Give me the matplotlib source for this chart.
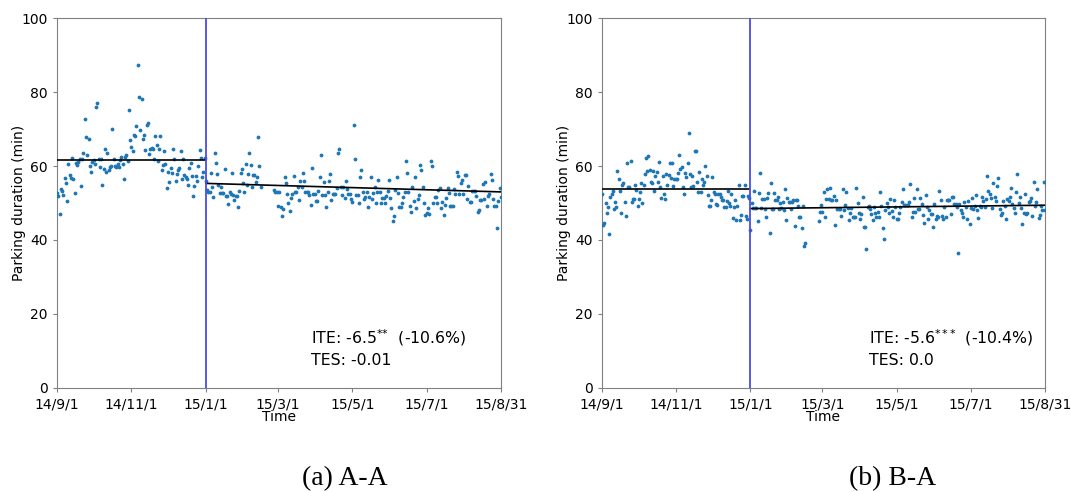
import numpy as np
import pandas as pd
from matplotlib import pyplot as plt
import matplotlib.dates as mdates

# ---- data (daily mean parking duration, min) ----
# A-A
pre_a = [52.8, 51.9, 47.0, 53.7, 53.3, 52.1, 56.8, 55.5, 50.5, 60.6,
         57.6, 56.8, 62.2, 56.4, 52.6, 60.9, 60.4, 61.0, 62.0, 54.7,
         62.0, 63.6, 72.7, 67.9, 63.0, 67.2, 60.0, 58.5, 61.0, 61.5,
         60.5, 76.0, 77.1, 61.8, 59.8, 62.0, 54.9, 59.3, 64.5, 58.4,
         63.6, 59.0, 59.6, 59.9, 69.9, 62.0, 60.0, 59.6, 60.5, 59.8,
         61.5, 62.4, 60.5, 56.6, 62.5, 63.0, 61.4, 75.1, 67.0, 65.2,
         64.0, 68.3, 68.0, 70.8, 87.2, 78.6, 69.7, 78.0, 67.2, 68.3,
         64.3, 71.0, 71.5, 63.3, 64.5, 64.8, 64.5, 62.0, 68.0, 65.8,
         61.3, 64.7, 68.0, 58.9, 60.3, 64.1, 60.5, 54.0, 58.5, 55.7,
         59.4, 58.2, 64.6, 62.0, 56.0, 57.9, 58.8, 59.4, 64.0, 56.6,
         62.0, 57.6, 57.0, 56.6, 55.0, 59.4, 60.8, 57.2, 51.9, 54.5,
         57.2, 55.9, 60.1, 64.2, 62.1, 56.9, 58.4, 62.1]
post_a1 = [56.0, 53.5, 52.9, 52.9, 58.0, 54.2, 51.5, 63.4, 60.9, 57.8,
           54.9, 52.6, 54.2, 52.8, 52.8, 59.1, 52.0, 52.0, 49.7, 53.0,
           52.4, 58.2, 52.1, 50.8, 51.9, 51.9, 48.8, 53.3, 58.0, 59.1,
           55.3, 52.9, 60.5, 54.8, 57.8, 63.4, 60.2, 54.2, 57.6, 57.6,
           55.6, 56.9, 67.9, 60.0, 54.4]
post_a2 = [53.5, 53.0, 53.0, 49.2, 53.0, 49.0, 46.6, 48.4, 57.1, 55.3,
           52.5, 49.9, 47.9, 51.3, 52.4, 57.4, 53.0, 53.0, 54.2, 50.9,
           55.9, 54.2, 58.2, 56.0, 53.0, 53.0, 53.0, 52.1, 49.5, 59.4,
           52.5, 52.5, 50.5, 50.5, 53.2, 57.0, 63.1, 52.1, 55.6, 52.1,
           48.8, 52.9, 56.0, 57.8, 50.8, 52.5, 52.5, 52.5, 54.0, 63.4,
           64.7, 54.4, 52.1, 54.2, 51.3, 55.9, 53.9, 52.5, 52.5, 51.0,
           50.3, 71.0, 62.0, 52.2, 52.2, 50.1, 56.9, 59.0, 52.9, 51.0,
           51.6, 53.0, 48.9, 51.6, 57.1, 51.0, 52.8, 54.2, 49.9, 52.9,
           56.1, 53.0, 50.0, 51.3, 51.3, 50.0, 52.0, 53.3, 56.1, 51.4,
           48.6, 45.1, 46.4, 53.5, 57.1, 52.8, 48.9, 48.9, 50.0, 51.6,
           53.0, 61.3, 58.0, 52.9, 49.3, 47.6, 54.2, 50.5, 57.1, 48.6,
           51.0, 52.1, 60.3, 59.0, 54.3, 50.0, 46.7, 47.3, 48.6, 46.9,
           61.3, 60.0, 50.0, 51.7, 51.7, 50.0, 53.5, 54.0, 48.6, 50.4,
           46.7, 49.4, 51.3, 54.1, 52.6, 49.2, 49.2, 49.2, 53.9, 52.3,
           58.5, 57.4, 52.5, 55.5, 56.2, 52.5, 57.5, 57.5, 51.0, 54.5,
           50.3, 50.3, 53.2, 53.2, 53.2, 52.0, 47.5, 48.2, 50.8, 50.8,
           55.1, 51.2, 55.7, 49.1, 51.9, 52.3, 57.9, 56.3, 51.2, 49.1,
           49.1, 43.2, 50.6, 54.0, 51.6]

# B-A
pre_b = [52.3, 44.1, 44.5, 49.9, 47.2, 48.8, 41.6, 51.7, 52.3, 53.3,
         48.3, 50.3, 49.0, 58.7, 56.4, 53.2, 47.2, 54.8, 55.3, 50.3,
         46.5, 60.9, 54.2, 54.2, 61.4, 50.3, 51.2, 51.2, 54.8, 53.5,
         49.2, 51.0, 52.9, 55.5, 50.0, 55.0, 57.8, 62.2, 58.7, 62.6,
         59.0, 55.8, 55.5, 58.7, 53.2, 57.3, 58.5, 55.7, 61.0, 54.2,
         51.4, 57.3, 52.4, 51.0, 57.8, 54.8, 57.7, 60.9, 56.8, 60.9,
         54.6, 56.5, 56.5, 56.5, 58.1, 63.1, 59.1, 59.8, 54.2, 52.4,
         58.2, 57.0, 60.9, 69.0, 57.9, 54.2, 57.4, 54.6, 64.1, 64.1,
         55.8, 53.0, 58.5, 53.0, 56.4, 54.8, 55.8, 59.9, 57.4, 52.1,
         49.1, 49.1, 50.8, 57.0, 53.0, 52.4, 49.6, 49.4, 52.5, 52.5,
         51.6, 50.8, 50.8, 48.9, 48.9, 50.6, 53.3, 50.1, 49.3, 52.4,
         45.9, 48.9, 50.8, 45.4, 49.3, 55.0, 45.5, 46.8, 51.8, 51.8,
         55.0, 46.5, 45.6, 51.9, 51.4]
post_b1 = [42.7, 49.9, 48.6, 53.3, 48.6, 48.6, 45.0, 52.6, 58.2, 48.6,
           51.2, 51.2, 48.3, 46.1, 51.4, 52.6, 42.0, 55.3, 48.5, 48.5,
           52.6, 50.7, 50.7, 51.6, 48.5, 49.9, 48.6, 50.3, 48.2, 53.9,
           45.4, 51.4, 50.3, 50.3, 48.5, 50.3, 50.9, 43.8, 50.9, 50.9,
           49.1, 46.2, 46.2, 43.2, 49.2, 38.4, 39.1]
post_b2 = [45.2, 47.7, 49.5, 47.7, 53.0, 46.3, 51.2, 53.7, 51.2, 54.1,
           50.8, 50.8, 51.9, 44.1, 50.8, 48.5, 48.5, 48.5, 46.6, 53.8,
           48.1, 49.4, 52.9, 48.7, 45.5, 47.4, 48.7, 46.3, 46.3, 46.3,
           54.1, 50.0, 47.3, 45.8, 46.9, 51.5, 43.5, 43.5, 37.5, 49.0,
           49.1, 48.3, 46.9, 45.3, 49.0, 47.4, 46.2, 47.6, 46.3, 52.9,
           49.1, 43.3, 40.2, 48.1, 50.0, 49.0, 47.4, 51.2, 47.9, 46.2,
           50.8, 49.0, 45.8, 45.8, 47.4, 49.0, 50.3, 53.7, 49.5, 49.5,
           49.5, 49.5, 50.3, 55.1, 46.1, 47.6, 51.4, 47.6, 53.7, 48.3,
           48.3, 51.4, 49.7, 46.7, 44.5, 52.1, 49.0, 45.6, 48.2, 46.9,
           46.9, 43.6, 49.7, 45.7, 46.6, 46.2, 53.3, 50.7, 46.4, 45.7,
           49.0, 46.2, 50.8, 50.8, 50.8, 47.1, 51.7, 51.7, 49.7, 49.7,
           48.9, 36.4, 49.7, 48.1, 47.2, 46.2, 50.3, 48.9, 45.6, 50.6,
           44.4, 48.7, 51.3, 48.5, 49.1, 52.1, 48.1, 45.9, 49.1, 48.9,
           51.7, 50.6, 48.9, 51.2, 57.3, 53.3, 52.4, 51.3, 48.6, 55.3,
           51.7, 50.5, 54.6, 56.8, 48.5, 46.8, 47.4, 50.5, 49.2, 45.6,
           51.2, 50.6, 51.5, 54.0, 49.8, 48.6, 47.4, 52.9, 57.8, 49.9,
           51.5, 48.6, 44.3, 47.3, 52.4, 46.9, 47.4, 50.3, 50.6, 51.4,
           46.5, 55.7, 49.1, 50.4, 53.9, 45.9, 46.8, 49.1, 48.1, 55.6,
           48.1]

# fitted segment levels (pre level, post start, post end)
fit_a = (61.7, 55.3, 53.0)
fit_b = (53.9, 48.5, 49.4)
ite_text = [r'ITE: -6.5$^{{*}{*}}$  (-10.6%)' + '\nTES: -0.01',
            r'ITE: -5.6$^{{*}\,{*}\,{*}}$  (-10.4%)' + '\nTES: 0.0']
captions = ['(a) A-A', '(b) B-A']

tick_dates = ['2014-09-01', '2014-11-01', '2015-01-01', '2015-03-01',
              '2015-05-01', '2015-07-01', '2015-08-31']
tick_labels = ['14/9/1', '14/11/1', '15/1/1', '15/3/1', '15/5/1', '15/7/1', '15/8/31']

start, cut, end = pd.Timestamp('2014-09-01'), pd.Timestamp('2015-01-01'), pd.Timestamp('2015-08-31')
# periods: pre, post before the Spring Festival gap, post after it
spans = [(start, pd.Timestamp('2014-12-31')),
         (cut, pd.Timestamp('2015-02-15')),
         (pd.Timestamp('2015-02-26'), end)]


def Panel(ax, series, fit, txt, txt_x):
    for (s, e), vals in zip(spans, series):
        days = pd.date_range(s, e, periods=len(vals))
        ax.scatter(days, vals, s=3, color='#1f77b4', zorder=3)
    ax.plot([start, pd.Timestamp('2014-12-31')], [fit[0], fit[0]], color='black', lw=1.2, zorder=4)
    ax.plot([cut, end], [fit[1], fit[2]], color='black', lw=1.2, zorder=4)
    ax.axvline(cut, color='#4b4bf0', lw=1.3, zorder=5)

    ax.set_ylim(0, 100)
    ax.set_yticks(range(0, 101, 20))
    ax.set_xlim(start, end)
    ax.set_xticks([pd.Timestamp(d) for d in tick_dates])
    ax.set_xticklabels(tick_labels)
    ax.tick_params(labelsize=10, length=3, color='#808080')
    for sp in ax.spines.values():
        sp.set_color('#808080')
    ax.set_xlabel('Time', fontsize=10, labelpad=-1)
    ax.set_ylabel('Parking duration (min)', fontsize=10, labelpad=-3)
    ax.text(txt_x, 0.11, txt, transform=ax.transAxes, fontsize=11.3,
            va='center', linespacing=1.4)


fig = plt.figure(figsize=(10.71, 4.92), dpi=100)
ax1 = fig.add_axes([0.0532, 0.2114, 0.4146, 0.752])
ax2 = fig.add_axes([0.5621, 0.2114, 0.4136, 0.752])

Panel(ax1, [pre_a, post_a1, post_a2], fit_a, ite_text[0], 0.572)
Panel(ax2, [pre_b, post_b1, post_b2], fit_b, ite_text[1], 0.603)

fig.text(0.322, 0.014, captions[0], fontsize=20, family='Liberation Serif', ha='center')
fig.text(0.833, 0.014, captions[1], fontsize=20, family='Liberation Serif', ha='center')

fig.savefig('out.png', dpi=100)
